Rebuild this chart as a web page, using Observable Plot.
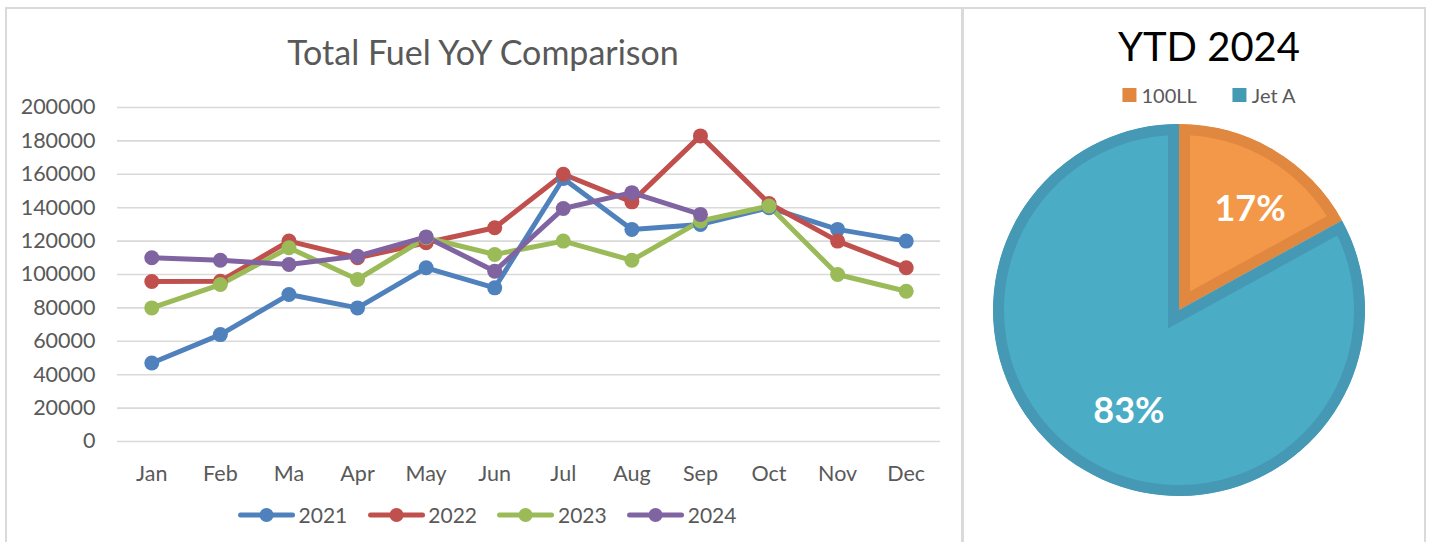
<!DOCTYPE html>
<html>
<head>
<meta charset="utf-8">
<script src="https://cdn.jsdelivr.net/npm/d3@7"></script>
<script src="https://cdn.jsdelivr.net/npm/@observablehq/plot@0.6"></script>
<style>
  html, body { margin: 0; padding: 0; background: #fff; width: 1431px; height: 542px; overflow: hidden; font-family: Lato, "Open Sans", sans-serif; }
  .panel { position: absolute; border: 2px solid #dadada; box-sizing: border-box; }
  .abs { position: absolute; white-space: nowrap; }
  .center { transform: translateX(-50%); }
  .leg { display: flex; align-items: center; }
  .leg-item { display: flex; align-items: center; }
</style>
</head>
<body>
<div class="panel" style="left:5px; top:7px; width:959px; height:560px;"></div>
<div class="panel" style="left:961px; top:7px; width:465px; height:560px;"></div>
<div id="lineChart" class="abs" style="left:0; top:0;"></div>
<div id="pieChart" class="abs" style="left:962px; top:110px;"></div>
<div id="lineTitle" class="abs center" style="left:483px; top:31px; font-size:34px; color:#595959;"></div>
<div id="lineLegend" class="abs center leg" style="left:487px; top:502px; font-size:21px; color:#595959;"></div>
<div id="pieTitle" class="abs center" style="left:1209px; top:22px; font-size:40px; color:#000;"></div>
<div id="pieLegend" class="abs center leg" style="left:1209px; top:83px; font-size:20px; color:#595959;"></div>
<script>
// ---------- data ----------
const months = ["Jan","Feb","Ma","Apr","May","Jun","Jul","Aug","Sep","Oct","Nov","Dec"];
const years = ["2021","2022","2023","2024"];
const y2021 = [47000, 64000, 88000, 80000, 104000, 92000, 157500, 127000, 130000, 140000, 127000, 120000];
const y2022 = [95800, 96000, 120000, 110000, 119000, 128000, 160000, 143500, 183000, 142500, 120000, 104000];
const y2023 = [80000, 94000, 116000, 97000, 122000, 112000, 120000, 108500, 132000, 141000, 100000, 90000];
const y2024 = [110000, 108500, 106000, 111000, 122500, 102000, 139500, 149000, 136000, null, null, null];
const yTicks = [0, 20000, 40000, 60000, 80000, 100000, 120000, 140000, 160000, 180000, 200000];
const lineColors = ["#4f81bd", "#c0504d", "#9bbb59", "#8064a2"];
const lineTitle = "Total Fuel YoY Comparison";

const pieTitle = "YTD 2024";
const pieCategories = ["100LL", "Jet A"];
const pieValues = [17, 83];
const pieFill = ["#f39848", "#4bacc6"];
const pieStroke = ["#e0883f", "#4699b4"];
const pieSwatch = ["#e2873f", "#4499b3"];

// ---------- line chart ----------
const series = [y2021, y2022, y2023, y2024];
const rows = [];
series.forEach((vals, i) => vals.forEach((v, j) => {
  if (v != null) rows.push({year: years[i], month: months[j], value: v});
}));

const lineSvg = Plot.plot({
  width: 960,
  height: 500,
  marginLeft: 117,
  marginRight: 20,
  marginTop: 107,
  marginBottom: 59,
  style: {fontFamily: "Lato, 'Open Sans', sans-serif", background: "transparent"},
  x: {type: "point", domain: months, padding: 0.5, round: false},
  y: {domain: [0, 200000]},
  color: {domain: years, range: lineColors},
  marks: [
    Plot.ruleY(yTicks, {stroke: "#d9d9d9", strokeWidth: 1.6}),
    Plot.axisY(yTicks, {tickSize: 0, tickPadding: 22, tickFormat: d => String(d), fontSize: 21.5, fill: "#595959", label: null}),
    Plot.axisX({tickSize: 0, tickPadding: 24, fontSize: 21.5, fill: "#595959", label: null}),
    ...years.map(yr => Plot.line(rows.filter(r => r.year === yr), {x: "month", y: "value", stroke: "year", strokeWidth: 5, strokeLinejoin: "round", strokeLinecap: "round"})),
    ...years.map(yr => Plot.dot(rows.filter(r => r.year === yr), {x: "month", y: "value", fill: "year", r: 7.5, stroke: "none"}))
  ]
});
document.getElementById("lineChart").appendChild(lineSvg);
document.getElementById("lineTitle").textContent = lineTitle;

// line legend
const lineLegend = document.getElementById("lineLegend");
years.forEach((yr, i) => {
  const item = document.createElement("div");
  item.className = "leg-item";
  item.style.marginRight = i < years.length - 1 ? "20px" : "0";
  const sw = d3.create("svg").attr("width", 58).attr("height", 16).style("margin-right", "3px");
  sw.append("line").attr("x1", 3).attr("x2", 55).attr("y1", 8).attr("y2", 8)
    .attr("stroke", lineColors[i]).attr("stroke-width", 5).attr("stroke-linecap", "round");
  sw.append("circle").attr("cx", 29).attr("cy", 8).attr("r", 7).attr("fill", lineColors[i]);
  item.appendChild(sw.node());
  const t = document.createElement("span");
  t.textContent = yr;
  item.appendChild(t);
  lineLegend.appendChild(item);
});

// ---------- pie chart ----------
const pieRows = pieCategories.map((c, i) => ({category: c, value: pieValues[i]}));
const total = d3.sum(pieValues);
const arcs = d3.pie().sort(null).value(d => d.value)(pieRows);
const labelR = 0.64;
const labelRows = arcs.map(a => {
  const mid = (a.startAngle + a.endAngle) / 2;
  return {x: labelR * Math.sin(mid), y: labelR * Math.cos(mid), label: Math.round(a.data.value / total * 100) + "%"};
});

const pieMark = (index, scales, values, dimensions) => {
  const cx = scales.x(0), cy = scales.y(0);
  const R = scales.x(1) - scales.x(0);
  const g = d3.create("svg:g").attr("transform", `translate(${cx},${cy})`);
  const arcGen = d3.arc().innerRadius(0).outerRadius(R);
  arcs.forEach((a, i) => {
    const id = "pieclip" + i;
    const d = arcGen(a);
    g.append("clipPath").attr("id", id).append("path").attr("d", d);
    g.append("path").attr("d", d)
      .attr("fill", pieFill[i]).attr("stroke", pieStroke[i]).attr("stroke-width", 22)
      .attr("stroke-linejoin", "miter")
      .attr("clip-path", `url(#${id})`);
  });
  return g.node();
};

const pieSvg = Plot.plot({
  width: 463,
  height: 400,
  marginLeft: 31,
  marginRight: 60,
  marginTop: 16,
  marginBottom: 16,
  style: {fontFamily: "Lato, 'Open Sans', sans-serif", background: "transparent"},
  x: {domain: [-1, 1], axis: null},
  y: {domain: [-1, 1], axis: null},
  marks: [
    pieMark,
    Plot.text(labelRows, {x: "x", y: "y", text: "label", dx: 10, fill: "white", fontSize: 36, fontWeight: "bold"})
  ]
});
document.getElementById("pieChart").appendChild(pieSvg);
document.getElementById("pieTitle").textContent = pieTitle;

const pieLegend = document.getElementById("pieLegend");
pieCategories.forEach((c, i) => {
  const item = document.createElement("div");
  item.className = "leg-item";
  item.style.marginRight = i < pieCategories.length - 1 ? "36px" : "0";
  const sq = document.createElement("span");
  sq.style.cssText = `display:inline-block;width:14px;height:14px;background:${pieSwatch[i]};margin-right:5px;`;
  item.appendChild(sq);
  const t = document.createElement("span");
  t.textContent = c;
  item.appendChild(t);
  pieLegend.appendChild(item);
});
</script>
</body>
</html>
